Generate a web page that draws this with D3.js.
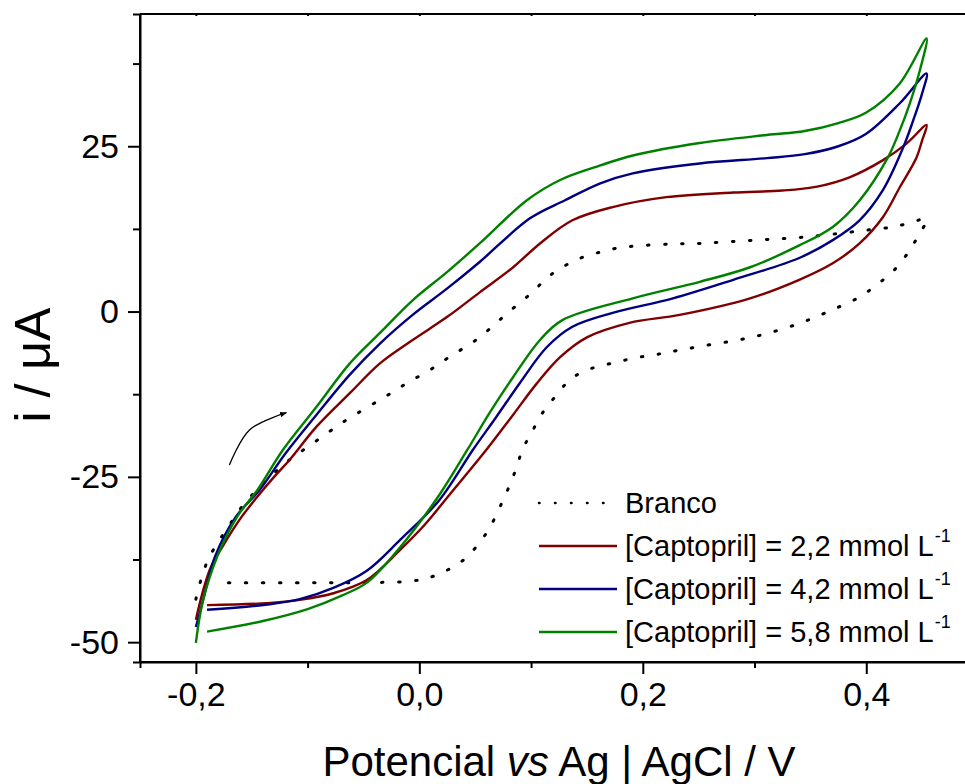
<!DOCTYPE html>
<html><head><meta charset="utf-8">
<script src="https://cdn.jsdelivr.net/npm/d3@7/dist/d3.min.js"></script>
<style>body{margin:0;background:#fff}svg{display:block}text{font-family:"Liberation Sans",Arial,sans-serif;fill:#000}</style>
</head><body><svg id="c" width="965" height="784"></svg>
<script>
// ---- data (E / V vs Ag|AgCl, i / µA) ----
const brancoLabel = "Branco";
const seriesLabels = ["[Captopril] = 2,2 mmol L", "[Captopril] = 4,2 mmol L", "[Captopril] = 5,8 mmol L"];
const xTicks = [-0.2, 0.0, 0.2, 0.4];
const xMinor = [-0.1, 0.1, 0.3];
const yTicks = [-50, -25, 0, 25];
const yMinor = [-37.5, -12.5, 12.5, 37.5];

const branco = [[-0.200,-43.5],[-0.195,-40.3],[-0.189,-37.5],[-0.181,-35.1],[-0.171,-32.6],[-0.161,-30.0],[-0.141,-26.2],[-0.116,-22.4],[-0.101,-20.6],[-0.085,-18.7],[-0.069,-16.8],[-0.024,-12.2],[-0.009,-10.6],[0.008,-9.0],[0.023,-7.3],[0.038,-5.7],[0.054,-3.9],[0.069,-1.7],[0.084,0.5],[0.101,2.9],[0.115,5.2],[0.130,6.9],[0.146,8.2],[0.162,9.0],[0.177,9.6],[0.193,9.9],[0.224,10.2],[0.251,10.3],[0.281,10.6],[0.311,10.9],[0.340,11.2],[0.370,11.7],[0.400,12.3],[0.424,12.8],[0.439,13.4],[0.454,14.0],
  [0.446,11.3],[0.437,8.8],[0.424,6.1],[0.409,4.0],[0.394,2.2],[0.370,0.3],[0.340,-1.8],[0.300,-3.8],[0.250,-5.3],[0.224,-6.1],[0.209,-6.6],[0.193,-7.0],[0.178,-7.6],[0.163,-8.2],[0.146,-9.1],[0.132,-10.8],[0.119,-13.4],[0.108,-15.9],[0.100,-18.5],[0.093,-20.6],[0.085,-24.5],[0.075,-28.5],[0.060,-33.5],[0.040,-37.5],[0.020,-39.5],[0.000,-40.6],[-0.050,-41.0],[-0.100,-41.0],[-0.176,-41.0]];

const capt22 = [[-0.200,-46.6],[-0.194,-42.5],[-0.187,-38.8],[-0.176,-35.5],[-0.161,-31.5],[-0.145,-28.0],[-0.130,-25.0],[-0.116,-22.4],[-0.092,-17.4],[-0.062,-12.3],[-0.035,-7.8],[-0.006,-4.3],[0.025,-0.8],[0.054,2.9],[0.084,6.7],[0.108,10.3],[0.137,13.8],[0.173,15.8],[0.221,17.3],[0.281,18.0],[0.325,18.3],[0.356,18.9],[0.385,20.3],[0.415,22.9],[0.436,25.4],[0.454,28.2],
  [0.450,25.9],[0.445,23.3],[0.430,18.8],[0.415,14.3],[0.394,10.3],[0.370,7.3],[0.340,4.8],[0.296,2.0],[0.233,-0.5],[0.188,-1.7],[0.150,-3.9],[0.126,-6.9],[0.105,-10.9],[0.084,-15.6],[0.060,-20.9],[0.027,-27.7],[0.005,-32.2],[-0.017,-36.0],[-0.047,-40.6],[-0.077,-42.6],[-0.107,-43.6],[-0.136,-44.1],[-0.190,-44.4]];

const capt42 = [[-0.200,-47.7],[-0.195,-44.6],[-0.189,-40.6],[-0.183,-37.1],[-0.164,-31.0],[-0.143,-27.0],[-0.120,-21.5],[-0.092,-15.6],[-0.062,-9.5],[-0.035,-4.8],[-0.006,-0.5],[0.025,3.5],[0.054,7.5],[0.099,14.1],[0.130,16.8],[0.162,19.4],[0.191,20.9],[0.251,22.4],[0.311,23.2],[0.345,23.8],[0.375,25.0],[0.400,26.9],[0.430,31.5],[0.454,36.0],
  [0.450,33.0],[0.442,28.9],[0.433,24.8],[0.415,18.4],[0.394,13.8],[0.370,10.8],[0.340,8.1],[0.281,4.8],[0.227,2.0],[0.173,-0.2],[0.137,-2.3],[0.114,-5.4],[0.090,-10.8],[0.069,-15.9],[0.048,-20.9],[0.018,-28.5],[-0.017,-34.5],[-0.047,-39.2],[-0.077,-41.8],[-0.107,-43.5],[-0.136,-44.3],[-0.190,-45.1]];

const capt58 = [[-0.200,-50.1],[-0.194,-44.0],[-0.181,-37.1],[-0.163,-31.0],[-0.145,-27.0],[-0.122,-20.9],[-0.092,-14.4],[-0.062,-7.8],[-0.035,-3.2],[-0.006,1.7],[0.025,6.0],[0.054,10.3],[0.096,16.8],[0.126,19.9],[0.162,22.1],[0.191,23.6],[0.251,25.5],[0.311,26.7],[0.345,27.3],[0.375,28.5],[0.400,30.1],[0.430,34.5],[0.454,41.3],
  [0.448,36.5],[0.439,31.5],[0.430,27.4],[0.419,23.2],[0.394,16.8],[0.370,12.8],[0.340,10.0],[0.296,6.7],[0.251,4.5],[0.191,2.0],[0.128,-1.3],[0.108,-4.3],[0.084,-9.9],[0.063,-15.3],[0.043,-20.9],[0.018,-27.7],[-0.017,-35.6],[-0.047,-41.0],[-0.070,-43.0],[-0.100,-45.0],[-0.140,-46.8],[-0.190,-48.4]];

const arrowPts = [[-0.170,-23.2],[-0.152,-17.9],[-0.119,-15.3]];
const colors = ["#800000", "#000080", "#008000"];

// ---- layout ----
const svg = d3.select("#c");
const x = d3.scaleLinear().domain([-0.25, 0.5]).range([140, 978]);
const y = d3.scaleLinear().domain([-53, 45]).range([662, 14]);
const fmtX = d => d3.format(".1f")(d).replace(".", ",").replace("\u2212", "-");

svg.append("defs").append("clipPath").attr("id", "clip")
  .append("rect").attr("x", x.range()[0]).attr("y", 14).attr("width", x.range()[1] - x.range()[0]).attr("height", 648);
svg.select("defs").append("marker").attr("id", "ah").attr("viewBox", "0 0 10 10").attr("refX", 9).attr("refY", 5)
  .attr("markerWidth", 7).attr("markerHeight", 7).attr("markerUnits", "userSpaceOnUse").attr("orient", "auto")
  .append("path").attr("d", "M0,1 L10,5 L0,9 Z").attr("fill", "#000");

const line = d3.line().x(d => x(d[0])).y(d => y(d[1])).curve(d3.curveCatmullRom.alpha(0.5));
const g = svg.append("g").attr("clip-path", "url(#clip)");

g.append("path").datum(branco).attr("d", line).attr("fill", "none").attr("stroke", "#000")
  .attr("stroke-width", 3).attr("stroke-linecap", "round").attr("stroke-dasharray", "1.5 15.5");
[capt22, capt42, capt58].forEach((s, i) => {
  g.append("path").datum(s).attr("d", line).attr("fill", "none").attr("stroke", colors[i]).attr("stroke-width", 2.4);
});
g.append("path").datum(arrowPts).attr("d", line).attr("fill", "none").attr("stroke", "#000")
  .attr("stroke-width", 1.3).attr("marker-end", "url(#ah)");

// ---- axes ----
const axL = svg.append("g").attr("transform", `translate(${x.range()[0]},0)`)
  .call(d3.axisLeft(y).tickValues(yTicks).tickSize(12).tickPadding(9).tickFormat(d => String(d)));
axL.append("g").call(d3.axisLeft(y).tickValues(yMinor).tickSize(7).tickFormat(""));
const axB = svg.append("g").attr("transform", "translate(0,662)")
  .call(d3.axisBottom(x).tickValues(xTicks).tickSize(12).tickPadding(8).tickFormat(fmtX));
axB.append("g").call(d3.axisBottom(x).tickValues(xMinor).tickSize(6).tickFormat(""));
const axT = svg.append("g").attr("transform", "translate(0,14)")
  .call(d3.axisBottom(x).tickValues(xTicks.concat(xMinor)).tickSize(2).tickFormat(""));
[axL, axB, axT].forEach(a => {
  a.selectAll("path.domain").attr("stroke-width", 2).attr("stroke", "#000");
  a.selectAll("line").attr("stroke-width", 2).attr("stroke", "#000");
  a.selectAll("text").style("font-size", "34px").attr("fill", "#000");
});
axL.select("path.domain").attr("d", `M0,${y.range()[0]}V${y.range()[1]}`);
axB.select("path.domain").attr("d", `M${x.range()[0]},0H${x.range()[1]}`);
axT.select("path.domain").attr("d", `M${x.range()[0]},0H${x.range()[1]}`);

// ---- titles ----
const xt = svg.append("text").attr("x", (x.range()[0] + x.range()[1]) / 2).attr("y", 776)
  .attr("text-anchor", "middle").style("font-size", "42px");
xt.append("tspan").text("Potencial ");
xt.append("tspan").style("font-style", "italic").text("vs");
xt.append("tspan").text(" Ag | AgCl / V");
svg.append("text").attr("transform", "translate(50,365) rotate(-90)").attr("text-anchor", "middle")
  .style("font-size", "50px").text("i / \u03BCA");

// ---- legend ----
const leg = svg.append("g");
const rows = [{label: brancoLabel, dot: true}].concat(seriesLabels.map((l, i) => ({label: l, color: colors[i]})));
const rowY = d3.scalePoint().domain(d3.range(rows.length)).range([503, 632]);
rows.forEach((r, i) => {
  const yy = rowY(i);
  const ln = leg.append("line").attr("x1", 539).attr("x2", 617).attr("y1", yy).attr("y2", yy);
  if (r.dot) ln.attr("stroke", "#000").attr("stroke-width", 2.5).attr("stroke-linecap", "round").attr("stroke-dasharray", "0.5 15.5");
  else ln.attr("stroke", r.color).attr("stroke-width", 2.4);
  const t = leg.append("text").attr("x", 625).attr("y", yy + 10).style("font-size", "29px");
  t.append("tspan").text(r.label);
  if (!r.dot) t.append("tspan").attr("dy", -14).attr("dx", 1).style("font-size", "18px").text("-1");
});
</script></body></html>
